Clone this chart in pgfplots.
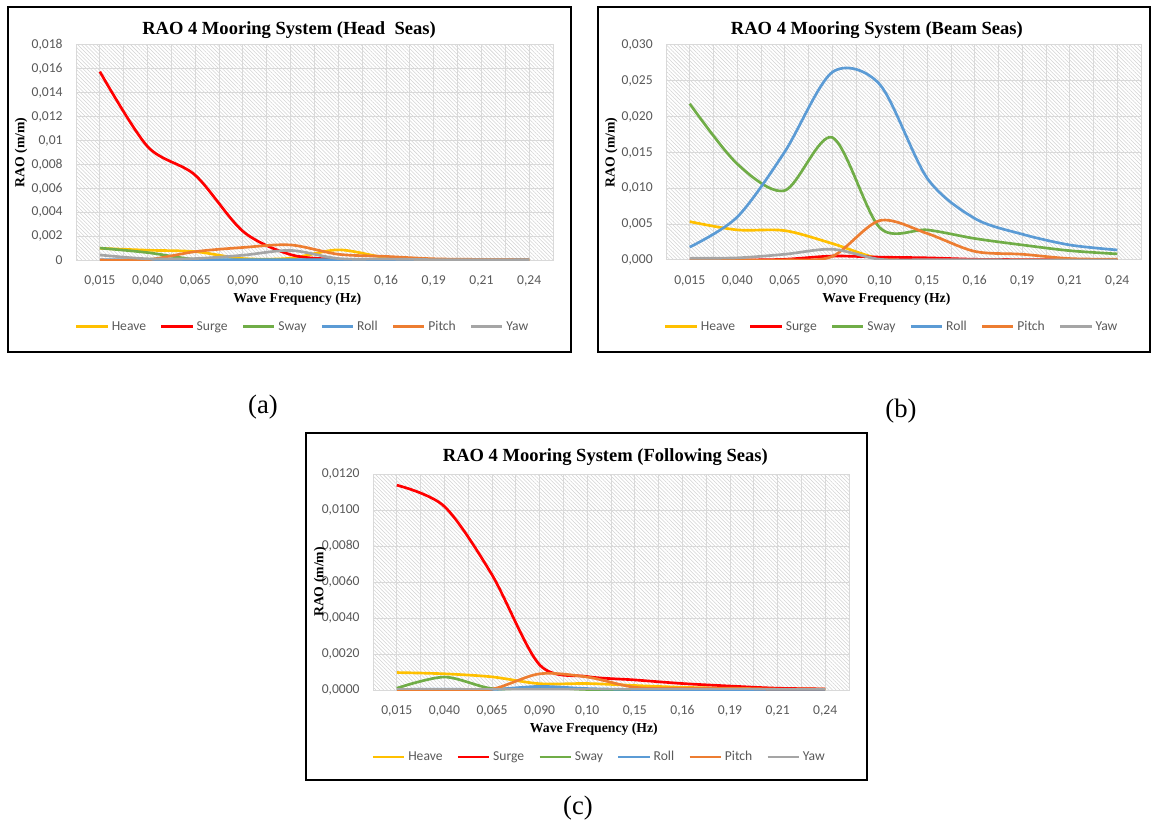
\documentclass[border=0pt]{standalone}
\usepackage{fontspec}
\setmainfont{Liberation Serif}
\newfontfamily\calibri{Carlito}
\usepackage{pgfplots}
\usepackage{pgfplotstable}
\pgfplotsset{compat=1.18}
\usetikzlibrary{patterns.meta}

\definecolor{cHeave}{HTML}{FFC000}
\definecolor{cSurge}{HTML}{FF0000}
\definecolor{cSway}{HTML}{70AD47}
\definecolor{cRoll}{HTML}{5B9BD5}
\definecolor{cPitch}{HTML}{ED7D31}
\definecolor{cYaw}{HTML}{A5A5A5}
\definecolor{txtgray}{HTML}{595959}
\definecolor{gridgray}{HTML}{D9D9D9}
\definecolor{hatchgray}{HTML}{D2D2D2}

% Head seas
\pgfplotstableread{
x heave surge sway roll pitch yaw
0 0.00098 0.01577 0.00100 0.00003 0.00000 0.00042
1 0.00082 0.00950 0.00062 0.00003 0.00003 0.00010
2 0.00070 0.00710 0.00005 0.00003 0.00070 0.00012
3 0.00012 0.00240 0.00001 0.00003 0.00105 0.00040
4 0.00015 0.00045 0.00000 0.00003 0.00126 0.00080
5 0.00085 0.00005 0.00000 0.00003 0.00048 0.00012
6 0.00020 0.00002 0.00000 0.00002 0.00030 0.00008
7 0.00005 0.00000 0.00000 0.00002 0.00010 0.00003
8 0.00002 0.00000 0.00000 0.00002 0.00005 0.00002
9 0.00002 0.00000 0.00000 0.00002 0.00003 0.00002
}\dataA
% Beam seas
\pgfplotstableread{
x heave surge sway roll pitch yaw
0 0.00535 0.00000 0.02180 0.00180 0.00000 0.00025
1 0.00420 0.00000 0.01340 0.00600 0.00000 0.00030
2 0.00410 0.00010 0.00970 0.01510 0.00002 0.00080
3 0.00230 0.00055 0.01710 0.02620 0.00050 0.00150
4 0.00020 0.00040 0.00450 0.02450 0.00550 0.00010
5 0.00005 0.00030 0.00420 0.01140 0.00370 0.00005
6 0.00003 0.00010 0.00300 0.00580 0.00120 0.00003
7 0.00002 0.00005 0.00210 0.00360 0.00080 0.00002
8 0.00002 0.00003 0.00130 0.00210 0.00020 0.00002
9 0.00002 0.00002 0.00085 0.00140 0.00010 0.00002
}\dataB
% Following seas
\pgfplotstableread{
x heave surge sway roll pitch yaw
0 0.00097 0.01138 0.00010 0.00003 0.00002 0.00005
1 0.00090 0.01020 0.00072 0.00005 0.00002 0.00005
2 0.00073 0.00640 0.00008 0.00003 0.00005 0.00005
3 0.00035 0.00140 0.00015 0.00020 0.00090 0.00005
4 0.00036 0.00075 0.00003 0.00008 0.00072 0.00005
5 0.00025 0.00056 0.00002 0.00003 0.00015 0.00005
6 0.00015 0.00036 0.00002 0.00002 0.00010 0.00005
7 0.00010 0.00022 0.00002 0.00002 0.00010 0.00005
8 0.00006 0.00010 0.00002 0.00002 0.00005 0.00005
9 0.00005 0.00006 0.00002 0.00002 0.00005 0.00005
}\dataC

\pgfplotsset{
  rao/.style={
    scale only axis,
    anchor=south west,
    xmin=-0.5, xmax=9.5,
    xtick={0,1,2,3,4,5,6,7,8,9},
    xticklabels={{0,015},{0,040},{0,065},{0,090},{0,10},{0,15},{0,16},{0,19},{0,21},{0,24}},
    minor xtick={0.5,1.5,2.5,3.5,4.5,5.5,6.5,7.5,8.5},
    xmajorgrids, xminorgrids, ymajorgrids,
    major grid style={gridgray, line width=0.75pt},
    minor grid style={gridgray, line width=0.75pt},
    major tick length=0pt, minor tick length=0pt,
    tick style={draw=none},
    axis line style={gridgray, line width=0.75pt},
    scaled y ticks=false,
    ticklabel style={font=\calibri\fontsize{10.2}{12}\selectfont, text=txtgray},
    yticklabel style={xshift=-6.5pt},
    xticklabel style={yshift=-8pt},
    axis background/.style={pattern={Lines[angle=-45,distance=2pt,line width=0.4pt]}, pattern color=hatchgray},
    title style={font=\fontsize{13.9}{16}\selectfont\bfseries, anchor=center, yshift=-7.5pt},
    xlabel={Wave Frequency (Hz)},
    ylabel={RAO (m/m)},
    label style={font=\fontsize{10.3}{12}\selectfont\bfseries},
    xlabel style={at={(axis description cs:0.464,-0.181)}, anchor=center},
    ylabel style={at={(axis description cs:-0.115,0.5)}, anchor=center, rotate=0},
    legend style={draw=none, fill=none, legend columns=-1,
      at={(axis description cs:0.476,-0.31)}, anchor=center,
      font=\calibri\fontsize{10.2}{12}\selectfont, text=txtgray,
      /tikz/every even column/.append style={column sep=8.5pt}},
    legend image code/.code={\draw[#1, line width=2pt] (0pt,0pt) -- (23.5pt,0pt);},
    every axis plot/.append style={smooth, line width=2pt, no markers},
  }
}

\begin{document}
\begin{tikzpicture}
% (a) Head seas
\begin{axis}[rao, at={(57pt,-195pt)}, width=357.75pt, height=161.25pt,
  ymin=0, ymax=0.018,
  ytick={0,0.002,0.004,0.006,0.008,0.010,0.012,0.014,0.016,0.018},
  yticklabels={{0},{0,002},{0,004},{0,006},{0,008},{0,01},{0,012},{0,014},{0,016},{0,018}},
  title={RAO 4 Mooring System (Head\ \ Seas)},
  title style={at={(axis description cs:0.4465,1.079)}}]
\addplot[cHeave] table[x=x,y=heave] {\dataA};
\addplot[cSurge] table[x=x,y=surge] {\dataA};
\addplot[cSway]  table[x=x,y=sway]  {\dataA};
\addplot[cRoll]  table[x=x,y=roll]  {\dataA};
\addplot[cPitch] table[x=x,y=pitch] {\dataA};
\addplot[cYaw]   table[x=x,y=yaw]   {\dataA};
\legend{Heave,Surge,Sway,Roll,Pitch,Yaw}
\end{axis}
% (b) Beam seas
\begin{axis}[rao, at={(499.5pt,-195pt)}, width=356.25pt, height=161.25pt,
  ymin=0, ymax=0.030,
  ytick={0,0.005,0.010,0.015,0.020,0.025,0.030},
  yticklabels={{0,000},{0,005},{0,010},{0,015},{0,020},{0,025},{0,030}},
  title={RAO 4 Mooring System (Beam Seas)},
  title style={at={(axis description cs:0.444,1.079)}}]
\addplot[cHeave] table[x=x,y=heave] {\dataB};
\addplot[cSurge] table[x=x,y=surge] {\dataB};
\addplot[cSway]  table[x=x,y=sway]  {\dataB};
\addplot[cRoll]  table[x=x,y=roll]  {\dataB};
\addplot[cPitch] table[x=x,y=pitch] {\dataB};
\addplot[cYaw]   table[x=x,y=yaw]   {\dataB};
\legend{Heave,Surge,Sway,Roll,Pitch,Yaw}
\end{axis}
% (c) Following seas
\begin{axis}[rao, at={(279.75pt,-517.5pt)}, width=357pt, height=162pt,
  ymin=0, ymax=0.012,
  ytick={0,0.002,0.004,0.006,0.008,0.010,0.012},
  yticklabels={{0,0000},{0,0020},{0,0040},{0,0060},{0,0080},{0,0100},{0,0120}},
  title={RAO 4 Mooring System (Following Seas)},
  title style={at={(axis description cs:0.488,1.088)}},
  ylabel style={at={(axis description cs:-0.111,0.5)}}]
\addplot[cHeave] table[x=x,y=heave] {\dataC};
\addplot[cSurge] table[x=x,y=surge] {\dataC};
\addplot[cSway]  table[x=x,y=sway]  {\dataC};
\addplot[cRoll]  table[x=x,y=roll]  {\dataC};
\addplot[cPitch] table[x=x,y=pitch] {\dataC};
\addplot[cYaw]   table[x=x,y=yaw]   {\dataC};
\legend{Heave,Surge,Sway,Roll,Pitch,Yaw}
\end{axis}
% frames
\draw[line width=1.6pt] (6pt,-5.25pt) rectangle (428.25pt,-264pt);
\draw[line width=1.6pt] (448.5pt,-5.25pt) rectangle (862.4pt,-264pt);
\draw[line width=1.6pt] (229.5pt,-324.75pt) rectangle (650.25pt,-585pt);
% sub labels
\node[font=\fontsize{20}{22}\selectfont] at (197.25pt,-305.25pt) {(a)};
\node[font=\fontsize{20}{22}\selectfont] at (675.75pt,-308.25pt) {(b)};
\node[font=\fontsize{20}{22}\selectfont] at (433.5pt,-606pt) {(c)};
\pgfresetboundingbox
\path[use as bounding box] (0pt,0pt) rectangle (863.25pt,-617.25pt);
\end{tikzpicture}
\end{document}
